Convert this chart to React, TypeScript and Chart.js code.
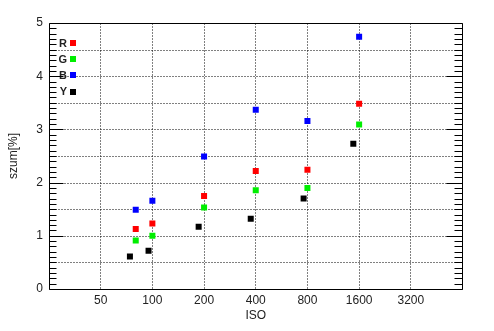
import React, { useEffect, useRef } from 'react';
import { Chart, registerables } from 'chart.js';

Chart.register(...registerables);

// ISO values (x) for R, G, B channels and for Y channel (slightly shifted)
const isoRGB = [80, 100, 200, 400, 800, 1600];
const isoY = [74, 95, 186, 374, 760, 1480];

// noise values in %
const noiseR = [1.13, 1.23, 1.75, 2.22, 2.24, 3.48];
const noiseG = [0.91, 1.0, 1.53, 1.855, 1.9, 3.09];
const noiseB = [1.49, 1.66, 2.49, 3.37, 3.16, 4.74];
const noiseY = [0.61, 0.72, 1.17, 1.32, 1.7, 2.73];

const seriesLabels = ['R', 'G', 'B', 'Y'];
const seriesColors = ['#ff0000', '#00ee00', '#0000ff', '#000000'];

const xTickValues = [50, 100, 200, 400, 800, 1600, 3200];
const yMin = 0;
const yMax = 5;
const yGridStep = 0.5;

const FONT = "'Liberation Sans', Arial, sans-serif";

const gridPlugin = {
  id: 'dottedGrid',
  beforeDatasetsDraw(chart: any) {
    const { ctx, chartArea } = chart;
    const x = chart.scales.x;
    const y = chart.scales.y;
    const l = Math.floor(chartArea.left) + 0.5;
    const r = Math.floor(chartArea.right) + 0.5;
    const t = Math.round(y.getPixelForValue(yMax)) + 0.5;
    const b = Math.round(y.getPixelForValue(yMin)) + 0.5;
    ctx.save();
    ctx.strokeStyle = '#000';
    ctx.lineWidth = 1;
    ctx.setLineDash([1, 2]);
    ctx.beginPath();
    xTickValues.forEach((v) => {
      const px = Math.floor(x.getPixelForValue(v)) + 0.5;
      ctx.moveTo(px, t);
      ctx.lineTo(px, b);
    });
    const n = Math.round((yMax - yMin) / yGridStep);
    for (let i = 1; i < n; i++) {
      const py = Math.round(y.getPixelForValue(yMin + i * yGridStep)) + 0.5;
      ctx.moveTo(l, py);
      ctx.lineTo(r, py);
    }
    ctx.stroke();
    ctx.restore();
  },
};

const framePlugin = {
  id: 'frameAndTicks',
  afterDraw(chart: any) {
    const { ctx, chartArea } = chart;
    const y = chart.scales.y;
    const l = Math.floor(chartArea.left) + 0.5;
    const r = Math.floor(chartArea.right) + 0.5;
    const t = Math.round(y.getPixelForValue(yMax)) + 0.5;
    const b = Math.round(y.getPixelForValue(yMin)) + 0.5;
    ctx.save();
    ctx.strokeStyle = '#000';
    ctx.lineWidth = 1;
    ctx.setLineDash([]);
    ctx.beginPath();
    ctx.rect(l, t, r - l, b - t);
    ctx.stroke();
    ctx.beginPath();
    for (let i = 0; i <= (yMax - yMin) * 10; i++) {
      const v = yMin + i / 10;
      const py = Math.round(y.getPixelForValue(v)) + 0.5;
      const major = i % 10 === 0;
      const lenL = major ? 14 : 7;
      const lenR = major ? 16 : 8;
      ctx.moveTo(l, py);
      ctx.lineTo(l + lenL, py);
      ctx.moveTo(r, py);
      ctx.lineTo(r - lenR, py);
    }
    ctx.stroke();
    ctx.restore();
  },
};

const legendPlugin = {
  id: 'insideLegend',
  afterDatasetsDraw(chart: any) {
    const { ctx, chartArea } = chart;
    ctx.save();
    ctx.font = `bold 11px ${FONT}`;
    ctx.textAlign = 'right';
    ctx.textBaseline = 'middle';
    chart.data.datasets.forEach((ds: any, i: number) => {
      const cy = chartArea.top + 20 + i * 16.2;
      ctx.fillStyle = '#222';
      ctx.fillText(ds.label, chartArea.left + 18, cy + 0.5);
      ctx.fillStyle = ds.backgroundColor;
      ctx.fillRect(chartArea.left + 21, Math.round(cy - 3), 6, 6);
    });
    ctx.restore();
  },
};

export default function App() {
  const ref = useRef<HTMLCanvasElement | null>(null);

  useEffect(() => {
    document.body.style.margin = '0';
    const canvas = ref.current;
    if (!canvas) return;
    const xsets = [isoRGB, isoRGB, isoRGB, isoY];
    const ysets = [noiseR, noiseG, noiseB, noiseY];
    const chart = new Chart(canvas, {
      type: 'scatter',
      data: {
        datasets: seriesLabels.map((label, i) => ({
          label,
          data: xsets[i].map((x, j) => ({ x, y: ysets[i][j] })),
          backgroundColor: seriesColors[i],
          borderColor: seriesColors[i],
          borderWidth: 0,
          pointStyle: 'rect',
          pointRadius: 4.25,
          pointHoverRadius: 4.25,
        })),
      },
      options: {
        animation: false,
        responsive: false,
        maintainAspectRatio: false,
        layout: { padding: { top: 23, right: 31.5, left: 0, bottom: 0 } },
        plugins: {
          legend: { display: false },
          tooltip: { enabled: false },
        },
        scales: {
          x: {
            type: 'logarithmic',
            min: 25,
            max: 6400,
            afterBuildTicks: (scale: any) => {
              scale.ticks = xTickValues.map((v) => ({ value: v }));
            },
            afterFit: (scale: any) => {
              scale.height = 42;
            },
            ticks: {
              autoSkip: false,
              maxRotation: 0,
              padding: 4,
              color: '#222',
              font: { family: FONT, size: 12 },
              callback: (v: any) => String(v),
            },
            grid: { display: false, drawTicks: false },
            border: { display: false },
            title: {
              display: true,
              text: 'ISO',
              color: '#222',
              font: { family: FONT, size: 12 },
              padding: { top: 0, bottom: 8 },
            },
          },
          y: {
            min: yMin,
            max: yMax,
            afterFit: (scale: any) => {
              scale.width = 49;
            },
            ticks: {
              stepSize: yGridStep,
              padding: 6,
              color: '#222',
              font: { family: FONT, size: 12 },
              callback: (v: any) => (Number.isInteger(Number(v)) ? String(v) : ''),
            },
            grid: { display: false, drawTicks: false },
            border: { display: false },
            title: {
              display: true,
              text: 'szum[%]',
              color: '#222',
              font: { family: FONT, size: 12 },
              padding: { top: 6, bottom: 0 },
            },
          },
        },
      },
      plugins: [gridPlugin, framePlugin, legendPlugin],
    } as any);
    return () => chart.destroy();
  }, []);

  return <canvas ref={ref} width={494} height={331} style={{ display: 'block' }} />;
}
